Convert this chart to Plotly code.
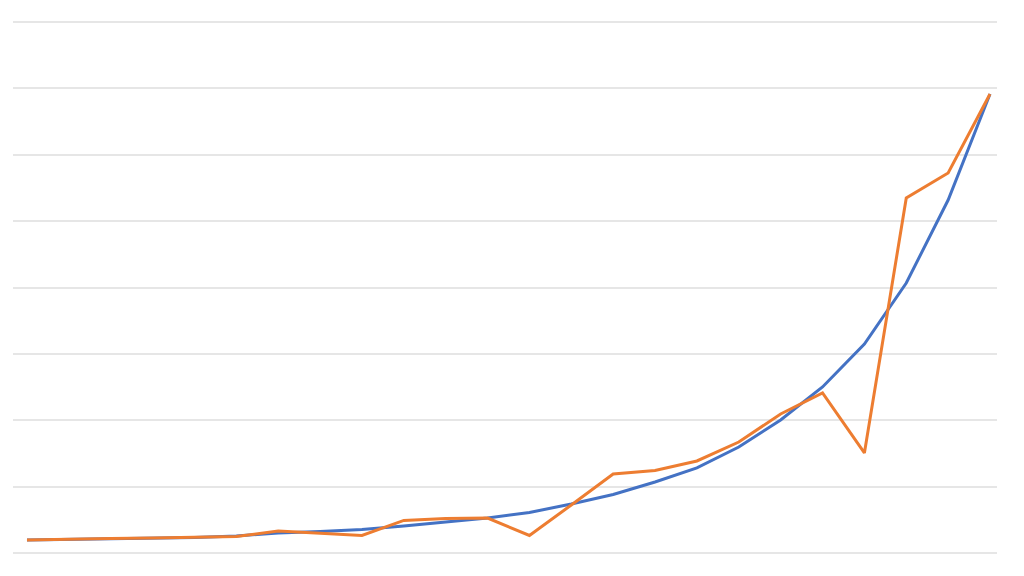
import plotly.graph_objects as go

periods = list(range(24))
trend_values = [1.96, 2.03, 2.11, 2.18, 2.34, 2.56, 3.01, 3.24, 3.54, 4.07, 4.67, 5.27,
                6.10, 7.38, 8.81, 10.70, 12.81, 15.97, 20.04, 25.01, 31.49, 40.68, 53.18, 69.15]
actual_values = [1.96, 2.11, 2.18, 2.26, 2.34, 2.49, 3.31, 2.94, 2.64, 4.90, 5.20, 5.27,
                 2.64, 7.23, 11.90, 12.43, 13.86, 16.72, 20.94, 24.11, 15.07, 53.48, 57.25, 69.15]
grid_ticks = [0, 10, 20, 30, 40, 50, 60, 70, 80]

fig = go.Figure()
fig.add_trace(go.Scatter(x=periods, y=trend_values, mode="lines",
                         line=dict(color="#4472C4", width=3), name="Trend"))
fig.add_trace(go.Scatter(x=periods, y=actual_values, mode="lines",
                         line=dict(color="#ED7D31", width=3), name="Actual"))

fig.update_layout(
    width=1024, height=576,
    margin=dict(l=5, r=35, t=4, b=21),
    paper_bgcolor="white", plot_bgcolor="white",
    showlegend=False,
    xaxis=dict(range=[-0.334, 23.167], showgrid=False, zeroline=False,
               showticklabels=False, ticks="", showline=False),
    yaxis=dict(range=[-1.51, 81.51], tickvals=grid_ticks, showgrid=True,
               gridcolor="#e6e6e6", gridwidth=2, zeroline=False,
               showticklabels=False, ticks="", showline=False),
)

fig.write_html("out.html")
